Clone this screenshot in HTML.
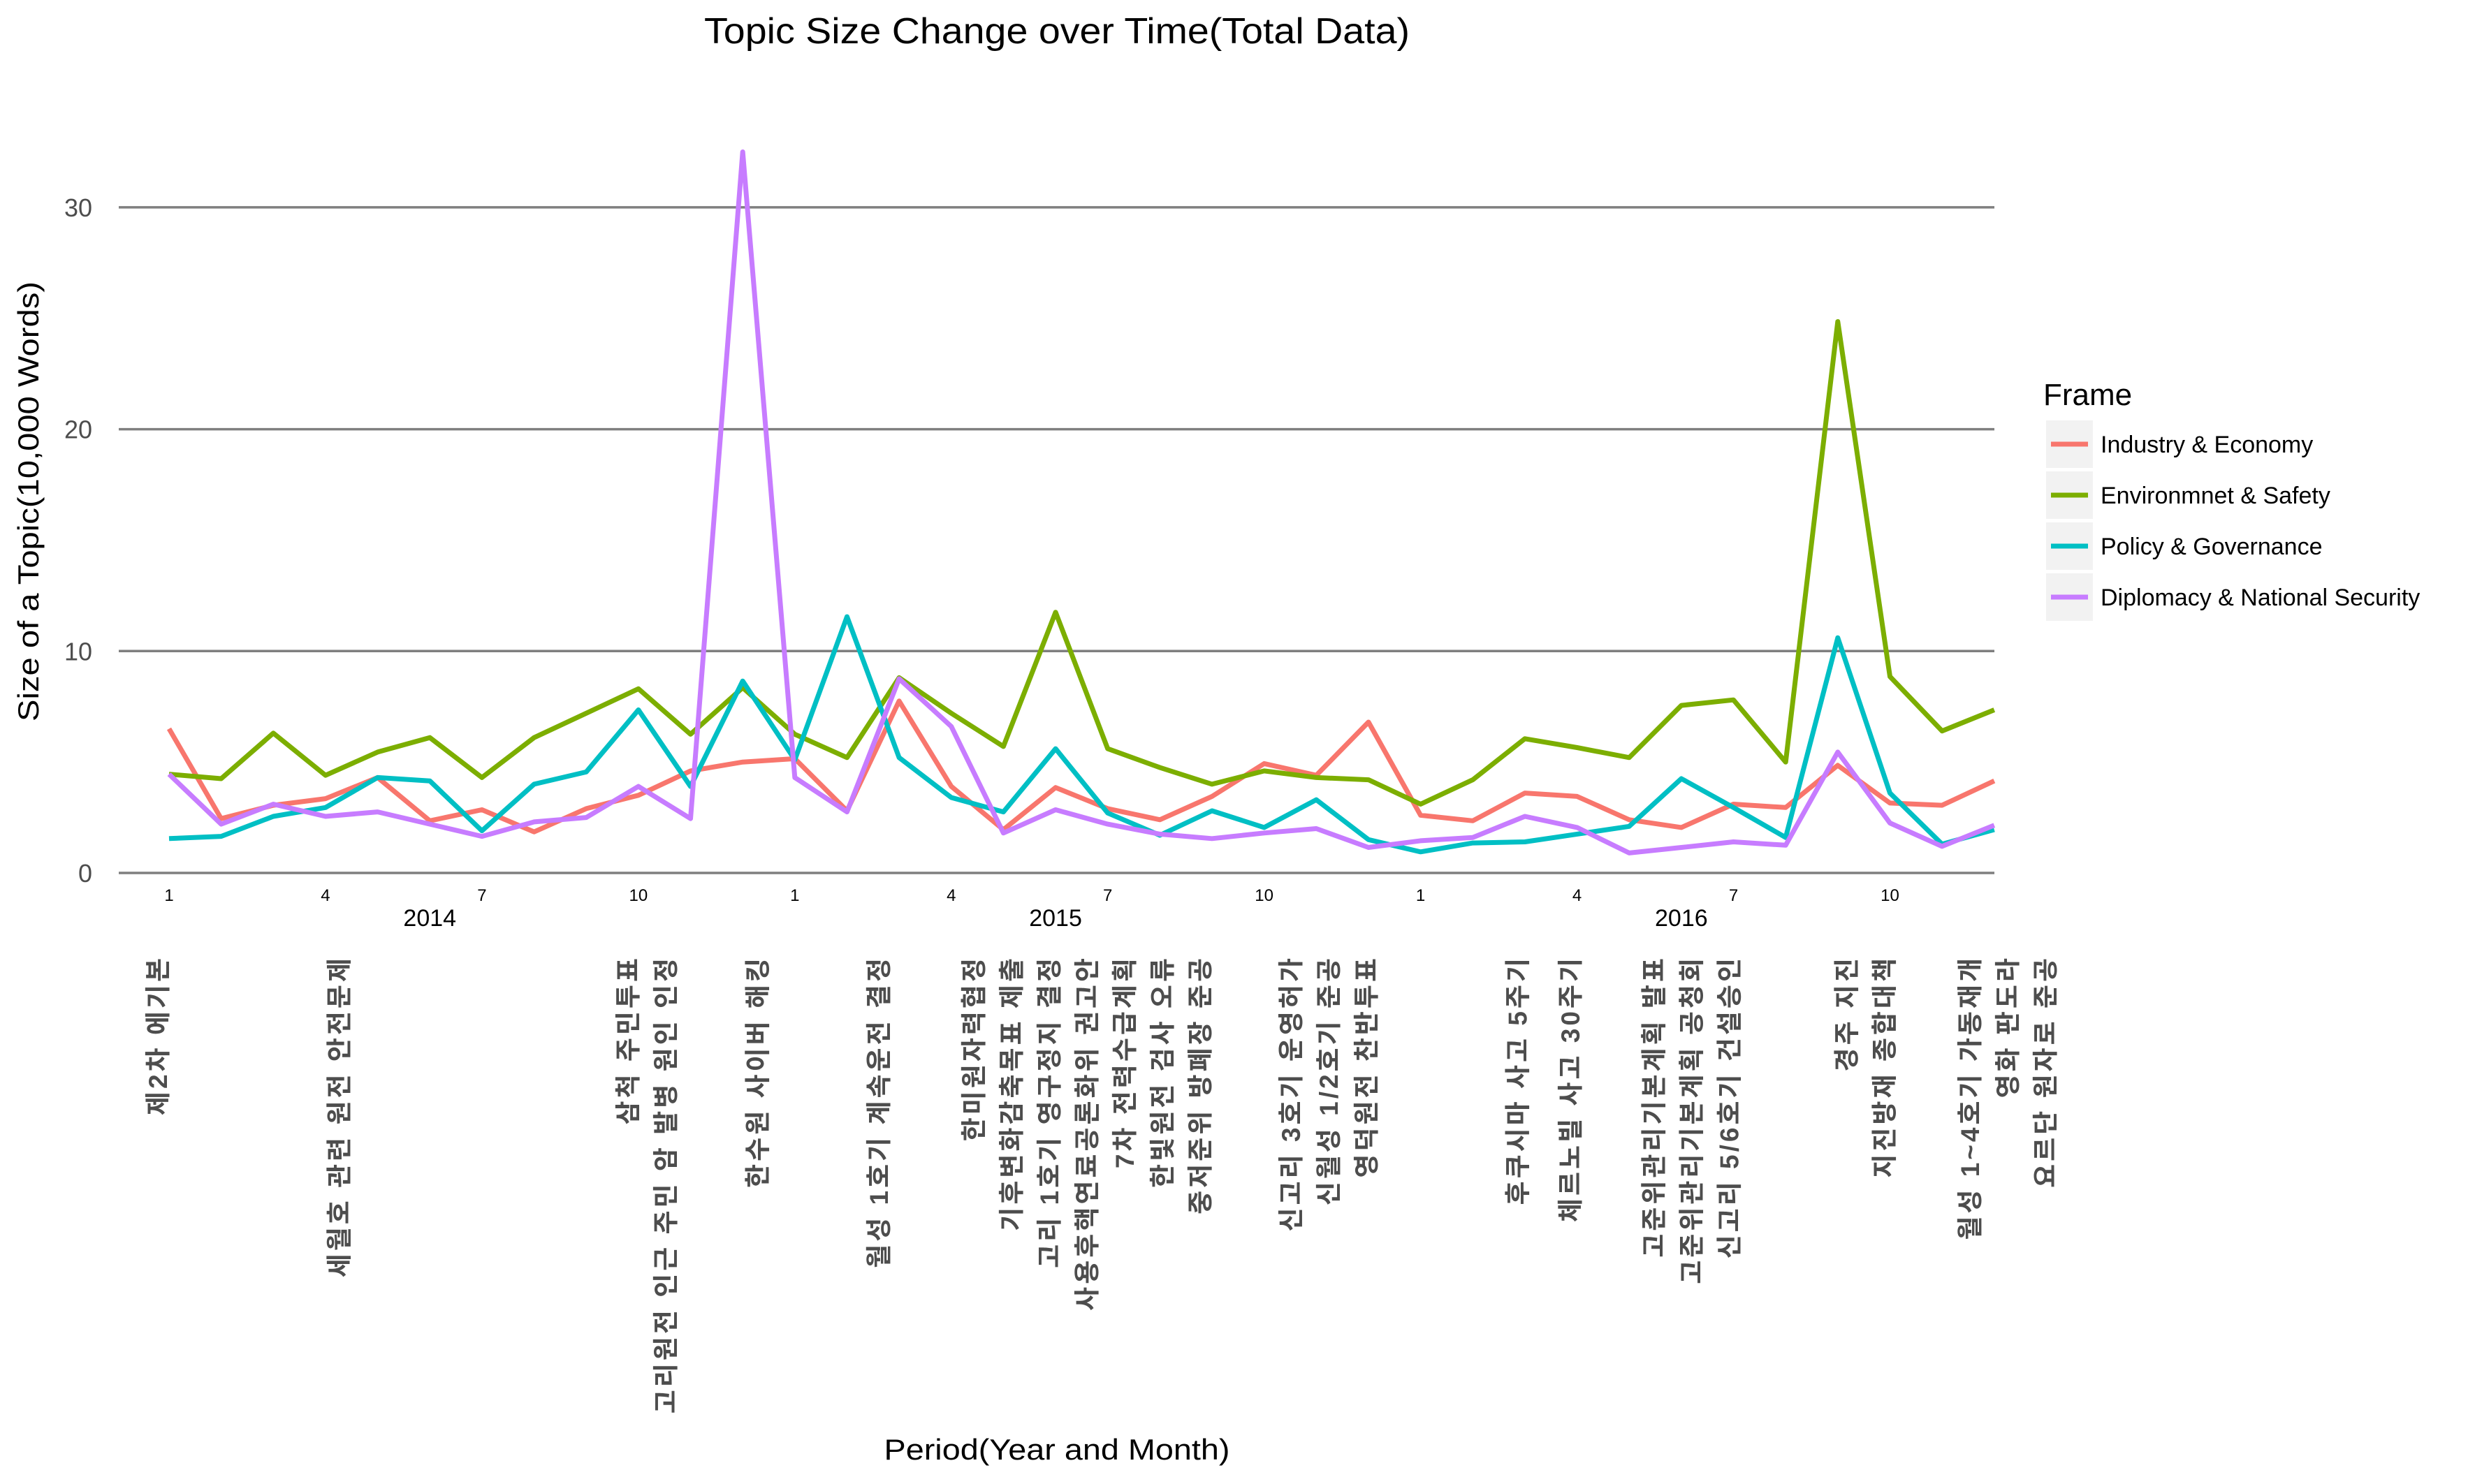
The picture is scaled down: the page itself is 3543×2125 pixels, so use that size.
<!DOCTYPE html>
<html><head><meta charset="utf-8"><style>
html,body{margin:0;padding:0;background:#fff;}
svg{display:block;font-family:"Liberation Sans","Noto Sans CJK KR",sans-serif;}
</style></head><body>
<svg id="chart" width="3543" height="2125" viewBox="0 0 3543 2125" xmlns="http://www.w3.org/2000/svg">
<text x="1513" y="62" text-anchor="middle" font-size="52" fill="#000" textLength="1010" lengthAdjust="spacingAndGlyphs">Topic Size Change over Time(Total Data)</text>
<g id="grid"></g>
<g id="yticks"></g>
<g id="xticks"></g>
<g id="series"></g>
<g id="events"></g>
<text transform="translate(55,718) rotate(-90)" text-anchor="middle" font-size="42" fill="#000" textLength="630" lengthAdjust="spacingAndGlyphs">Size of a Topic(10,000 Words)</text>
<text x="1513" y="2090" text-anchor="middle" font-size="42" fill="#000" textLength="495" lengthAdjust="spacingAndGlyphs">Period(Year and Month)</text>
<g id="legend">
<text x="2925" y="580" font-size="44" fill="#000">Frame</text>
</g>
</svg>
<script>
const categories = ["Industry & Economy","Environmnet & Safety","Policy & Governance","Diplomacy & National Security"];
const colors = ["#F8766D","#7CAE00","#00BFC4","#C77CFF"];
const industry = [6.5,2.45,3.05,3.35,4.3,2.35,2.85,1.85,2.9,3.5,4.6,5.0,5.15,2.8,7.75,3.9,1.95,3.85,2.9,2.4,3.45,4.93,4.4,6.8,2.6,2.35,3.6,3.45,2.4,2.05,3.1,2.95,4.85,3.15,3.05,4.15];
const environment = [4.45,4.25,6.3,4.4,5.45,6.1,4.3,6.1,7.2,8.3,6.25,8.35,6.25,5.2,8.8,7.2,5.7,11.75,5.6,4.75,4.0,4.6,4.3,4.2,3.1,4.2,6.05,5.65,5.2,7.55,7.8,5.0,24.85,8.85,6.4,7.35];
const policy = [1.55,1.65,2.55,2.95,4.3,4.15,1.9,4.0,4.55,7.35,3.9,8.65,5.1,11.55,5.2,3.4,2.75,5.6,2.7,1.7,2.8,2.05,3.3,1.5,0.95,1.35,1.4,1.75,2.1,4.25,2.95,1.6,10.6,3.6,1.3,1.95];
const diplomacy = [4.45,2.2,3.1,2.55,2.75,2.2,1.65,2.3,2.5,3.9,2.45,32.5,4.3,2.75,8.75,6.6,1.8,2.85,2.2,1.75,1.55,1.8,2.0,1.15,1.45,1.6,2.55,2.05,0.9,1.15,1.4,1.25,5.45,2.25,1.2,2.15];
const yTicks = [0,10,20,30];
const monthTicks = [0,3,6,9,12,15,18,21,24,27,30,33];
const monthLabels = ["1","4","7","10","1","4","7","10","1","4","7","10"];
const years = ["2014","2015","2016"];
const yearCenters = [5,17,29];
const eventMonths = [-0.21,3.27,8.81,11.29,13.62,15.44,21.52,25.87,26.88,28.48,32.18,34.54];
const eventLines = [
 ["제2차 에기본"],
 ["세월호 관련 원전 안전문제"],
 ["삼척 주민투표","고리원전 인근 주민 암 발병 원인 인정"],
 ["한수원 사이버 해킹"],
 ["월성 1호기 계속운전 결정"],
 ["한미원자력협정","기후변화감축목표 제출","고리 1호기 영구정지 결정","사용후핵연료공론화위 권고안","7차 전력수급계획","한빛원전 검사 오류","중저준위 방폐장 준공"],
 ["신고리 3호기 운영허가","신월성 1/2호기 준공","영덕원전 찬반투표"],
 ["후쿠시마 사고 5주기"],
 ["체르노빌 사고 30주기"],
 ["고준위관리기본계획 발표","고준위관리기본계획 공청회","신고리 5/6호기 건설승인"],
 ["경주 지진","지진방재 종합대책"],
 ["월성 1~4호기 가동재개","영화 판도라","요르단 원자로 준공"]
];
const NS = "http://www.w3.org/2000/svg";
const X0 = 242, DX = 74.65, Y0 = 1250, DY = 31.77, LEFT = 170, RIGHT = 2855;
function xs(m){ return X0 + m*DX; }
function ys(v){ return Y0 - v*DY; }
function mk(tag, attrs, parent){ const e=document.createElementNS(NS,tag); for(const k in attrs) e.setAttribute(k,attrs[k]); parent.appendChild(e); return e; }
const grid=document.getElementById('grid'), yt=document.getElementById('yticks'), xt=document.getElementById('xticks');
yTicks.forEach((v,i)=>{
  const l=mk('line',{x1:LEFT,x2:RIGHT,y1:ys(v),y2:ys(v),stroke:'#7f7f7f','stroke-width':3.5},grid);
  
  
  const t=mk('text',{x:132,y:ys(v)+13,'text-anchor':'end','font-size':36,fill:'#4d4d4d'},yt);
  t.textContent=v;
  
  
});
monthTicks.forEach((m,i)=>{
  const t=mk('text',{x:xs(m),y:1290,'text-anchor':'middle','font-size':24,fill:'#000'},xt);
  t.textContent=monthLabels[i];
  
  
});
years.forEach((y,i)=>{
  const t=mk('text',{x:xs(yearCenters[i]),y:1326,'text-anchor':'middle','font-size':34,fill:'#000'},xt);
  t.textContent=y;
  
  
});
const seriesData=[industry,environment,policy,diplomacy];
const sg=document.getElementById('series');
seriesData.forEach((arr,si)=>{
  const d=arr.map((v,i)=>(i?'L':'M')+xs(i).toFixed(1)+','+ys(v).toFixed(1)).join(' ');
  const p=mk('path',{d:d,fill:'none',stroke:colors[si],'stroke-width':7,'stroke-linejoin':'round'},sg);
  
  
});
const eg=document.getElementById('events');
eventMonths.forEach((m,gi)=>{
  const lines=eventLines[gi];
  lines.forEach((s,li)=>{
    const cx=xs(m)+li*54;
    const t=mk('text',{transform:'translate('+cx.toFixed(1)+',1368) rotate(-90)','text-anchor':'end','dominant-baseline':'central','font-size':37,'letter-spacing':4,fill:'#4d4d4d','font-weight':'bold'},eg);
    t.textContent=s;
    
    
  });
});
const lg=document.getElementById('legend');
categories.forEach((c,i)=>{
  const cy=636+i*73;
  const r=mk('rect',{x:2929,y:cy-34,width:67,height:68,fill:'#f2f2f2'},lg);
  
  
  const l=mk('line',{x1:2936,x2:2989,y1:cy,y2:cy,stroke:colors[i],'stroke-width':7},lg);
  
  
  const t=mk('text',{x:3007,y:cy+12,'font-size':34,fill:'#000'},lg);
  t.textContent=c;
  
  
});
</script>
</body></html>
